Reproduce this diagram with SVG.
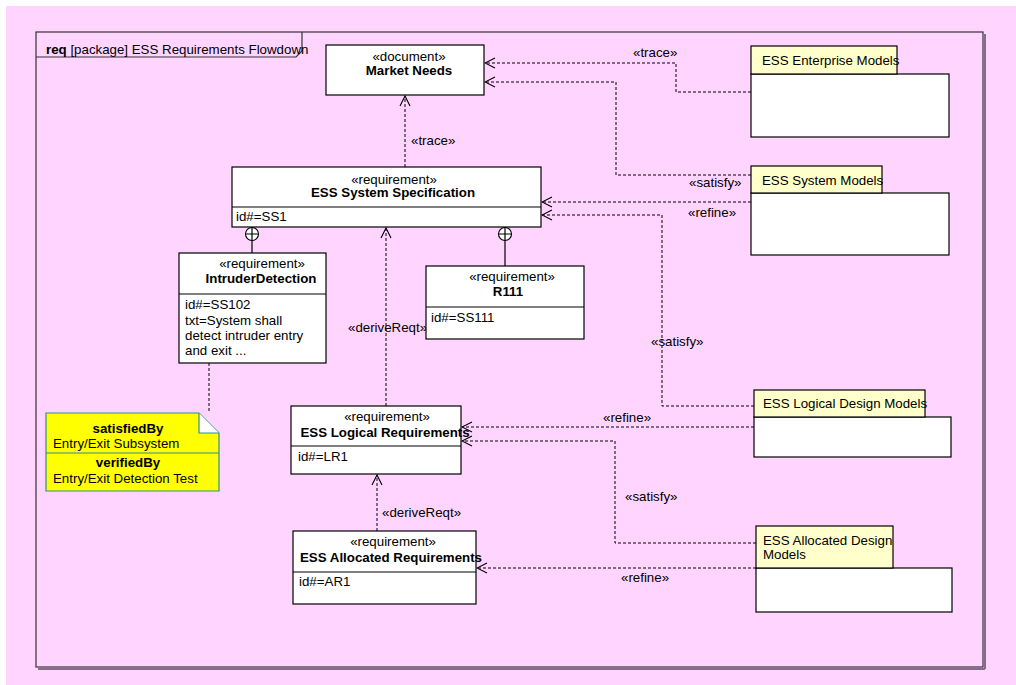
<svg xmlns="http://www.w3.org/2000/svg" width="1016" height="685" viewBox="0 0 1016 685">
<defs>
<style>
text{font-family:"Liberation Sans",Arial,sans-serif;font-size:13.3px;fill:#000}
.b{font-weight:bold}
.c{text-anchor:middle}
.box{fill:#fff;stroke:#000;stroke-width:1.2}
.tab{fill:#ffffcc;stroke:#000;stroke-width:1.2}
.dep{fill:none;stroke:#000;stroke-width:1;stroke-dasharray:3,2}
.dep.a{marker-end:url(#open)}
.sol{fill:none;stroke:#000;stroke-width:1.2}
</style>
<marker id="open" viewBox="0 0 12 12" refX="11" refY="6" markerWidth="12" markerHeight="12" markerUnits="userSpaceOnUse" orient="auto">
<path d="M1,1 L11,6 L1,11" fill="none" stroke="#000" stroke-width="1.1"/>
</marker>
</defs>
<rect x="0" y="0" width="1016" height="685" fill="#fff"/>
<rect x="6" y="6" width="1010" height="679" fill="#ffd5ff"/>
<g id="frame">
<line x1="985" y1="34" x2="985" y2="669" stroke="#8a6a8a" stroke-width="2"/>
<line x1="38" y1="669" x2="985" y2="669" stroke="#8a6a8a" stroke-width="2"/>
<rect x="36" y="32" width="947" height="635" fill="none" stroke="#333" stroke-width="1.2"/>
<path d="M36,57 H296 L302,51 V32" fill="none" stroke="#333" stroke-width="1.2"/>
<text x="46" y="54"><tspan class="b">req</tspan> [package] ESS Requirements Flowdown</text>
</g>
<g id="connectors">
<path class="dep a" d="M751,92 H676 V63 H485"/>
<text x="633" y="57">«trace»</text>
<path class="dep a" d="M751,175 H616 V82 H485"/>
<text x="689" y="187">«satisfy»</text>
<path class="dep a" d="M751,202 H542"/>
<text x="688" y="217">«refine»</text>
<path class="dep a" d="M754,406 H662 V215 H542"/>
<text x="651" y="346">«satisfy»</text>
<path class="dep a" d="M754,427 H462"/>
<text x="603" y="422">«refine»</text>
<path class="dep a" d="M756,543 H615 V441 H462"/>
<text x="625" y="501">«satisfy»</text>
<path class="dep a" d="M756,568 H477"/>
<text x="621" y="582">«refine»</text>
<path class="dep a" d="M405,167 V96"/>
<text x="411" y="145">«trace»</text>
<path class="dep a" d="M386,406 V228"/>
<text x="348" y="332">«deriveReqt»</text>
<path class="dep a" d="M377,531 V475"/>
<text x="382" y="517">«deriveReqt»</text>
<path class="dep" d="M209,363 V413"/>
<circle cx="252" cy="234" r="6.5" fill="#fff" stroke="#000" stroke-width="1.1"/>
<path class="sol" d="M245.5,234 H258.5 M252,227.5 V253"/>
<circle cx="505" cy="234" r="6.5" fill="#fff" stroke="#000" stroke-width="1.1"/>
<path class="sol" d="M498.5,234 H511.5 M505,227.5 V266"/>
</g>
<g id="market-needs">
<rect class="box" x="326" y="45" width="158" height="50"/>
<text class="c" x="409" y="61">«document»</text>
<text class="c b" x="409" y="75">Market Needs</text>
</g>
<g id="ess-system-specification">
<rect class="box" x="232" y="167" width="309" height="60"/>
<line class="sol" x1="232" y1="207" x2="541" y2="207"/>
<text class="c" x="394" y="184">«requirement»</text>
<text class="c b" x="393" y="197">ESS System Specification</text>
<text x="236" y="221">id#=SS1</text>
</g>
<g id="intruder-detection">
<rect class="box" x="179" y="253" width="147" height="110"/>
<line class="sol" x1="179" y1="294" x2="326" y2="294"/>
<text class="c" x="262" y="268">«requirement»</text>
<text class="c b" x="261" y="283">IntruderDetection</text>
<text x="185" y="309">id#=SS102</text>
<text x="185" y="325">txt=System shall</text>
<text x="185" y="340">detect intruder entry</text>
<text x="185" y="355">and exit ...</text>
</g>
<g id="r111">
<rect class="box" x="426" y="266" width="158" height="73"/>
<line class="sol" x1="426" y1="307" x2="584" y2="307"/>
<text class="c" x="512" y="281">«requirement»</text>
<text class="c b" x="508" y="296">R111</text>
<text x="431" y="322">id#=SS111</text>
</g>
<g id="note">
<path d="M46,413 H199 L219,433 V491 H46 Z" fill="#ffff00" stroke="#2a8f8f" stroke-width="1.2"/>
<path d="M199,413 V433 H219" fill="#fff" stroke="#2a8f8f" stroke-width="1.2"/>
<line x1="46" y1="453" x2="219" y2="453" stroke="#2a8f8f" stroke-width="1.2"/>
<text class="c b" x="128" y="433">satisfiedBy</text>
<text x="53" y="448">Entry/Exit Subsystem</text>
<text class="c b" x="128" y="467">verifiedBy</text>
<text x="53" y="483">Entry/Exit Detection Test</text>
</g>
<g id="ess-logical-requirements">
<rect class="box" x="291" y="406" width="170" height="68"/>
<line class="sol" x1="291" y1="446" x2="461" y2="446"/>
<text class="c" x="387" y="421">«requirement»</text>
<text class="c b" x="385" y="437">ESS Logical Requirements</text>
<text x="298" y="461">id#=LR1</text>
</g>
<g id="ess-allocated-requirements">
<rect class="box" x="293" y="531" width="183" height="73"/>
<line class="sol" x1="293" y1="572" x2="476" y2="572"/>
<text class="c" x="393" y="546">«requirement»</text>
<text class="c b" x="391" y="562">ESS Allocated Requirements</text>
<text x="299" y="586">id#=AR1</text>
</g>
<g id="ess-enterprise-models">
<rect class="box" x="751" y="74" width="198" height="63"/>
<rect class="tab" x="751" y="46" width="146" height="28"/>
<text x="762" y="65">ESS Enterprise Models</text>
</g>
<g id="ess-system-models">
<rect class="box" x="751" y="193" width="198" height="62"/>
<rect class="tab" x="751" y="166" width="131" height="27"/>
<text x="762" y="185">ESS System Models</text>
</g>
<g id="ess-logical-design-models">
<rect class="box" x="754" y="417" width="197" height="40"/>
<rect class="tab" x="754" y="390" width="171" height="27"/>
<text x="763" y="408">ESS Logical Design Models</text>
</g>
<g id="ess-allocated-design-models">
<rect class="box" x="756" y="568" width="196" height="44"/>
<rect class="tab" x="756" y="526" width="137" height="42"/>
<text x="763" y="545">ESS Allocated Design</text>
<text x="763" y="559">Models</text>
</g>
</svg>
